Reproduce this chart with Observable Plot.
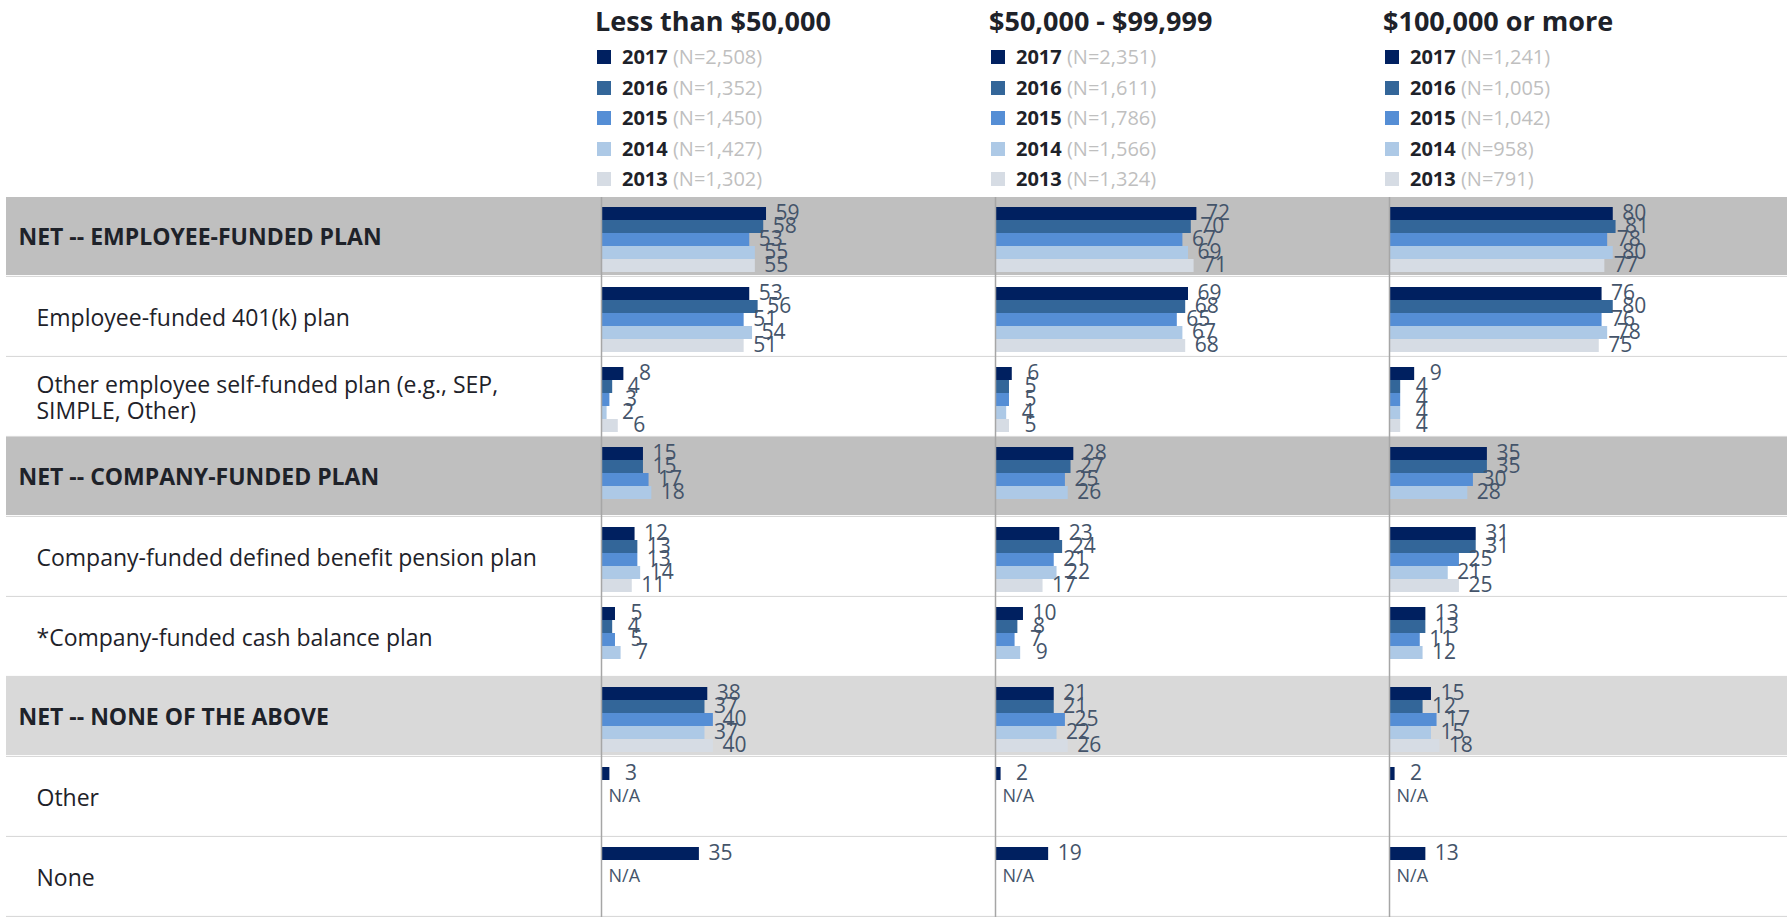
<!DOCTYPE html>
<html><head><meta charset="utf-8">
<script src="https://cdn.jsdelivr.net/npm/d3@7"></script>
<script src="https://cdn.jsdelivr.net/npm/@observablehq/plot@0.6"></script>
<style>
body{margin:0;background:#fff;font-family:"Open Sans",sans-serif;}
#chart{position:relative;width:1787px;height:918px;overflow:hidden;background:#fff;}
#chart svg{position:absolute;left:0;}
.title{position:absolute;font-weight:700;font-size:27px;color:#1e2229;white-space:nowrap;line-height:30px;}
.leg{position:absolute;font-size:20px;white-space:nowrap;line-height:30px;color:#1e2229;}
.leg b{font-weight:700;}
.leg span{color:#bfbfbf;}
.sw{position:absolute;width:14px;height:14px;}
</style></head><body><div id="chart"></div>
<script>
// ---- data ----
const groups = ["Less than $50,000", "$50,000 - $99,999", "$100,000 or more"];
const years = ["2017", "2016", "2015", "2014", "2013"];
const yearColors = ["#002060", "#336699", "#558ed5", "#adc9e6", "#d6dce4"];
const sampleLess50k = ["2,508", "1,352", "1,450", "1,427", "1,302"];
const sample50to99k = ["2,351", "1,611", "1,786", "1,566", "1,324"];
const sample100kPlus = ["1,241", "1,005", "1,042", "958", "791"];
const categories = [
  "NET -- EMPLOYEE-FUNDED PLAN",
  "Employee-funded 401(k) plan",
  "Other employee self-funded plan (e.g., SEP,\nSIMPLE, Other)",
  "NET -- COMPANY-FUNDED PLAN",
  "Company-funded defined benefit pension plan",
  "*Company-funded cash balance plan",
  "NET -- NONE OF THE ABOVE",
  "Other",
  "None"
];
const rowKinds = ["netDark", "item", "item", "netDark", "item", "item", "netLight", "item", "item"];
// values per category, in year order 2017..2013 (null = not shown)
const valuesLess50k = [
  [59, 58, 53, 55, 55],
  [53, 56, 51, 54, 51],
  [8, 4, 3, 2, 6],
  [15, 15, 17, 18, null],
  [12, 13, 13, 14, 11],
  [5, 4, 5, 7, null],
  [38, 37, 40, 37, 40],
  [3, "N/A", null, null, null],
  [35, "N/A", null, null, null]
];
const values50to99k = [
  [72, 70, 67, 69, 71],
  [69, 68, 65, 67, 68],
  [6, 5, 5, 4, 5],
  [28, 27, 25, 26, null],
  [23, 24, 21, 22, 17],
  [10, 8, 7, 9, null],
  [21, 21, 25, 22, 26],
  [2, "N/A", null, null, null],
  [19, "N/A", null, null, null]
];
const values100kPlus = [
  [80, 81, 78, 80, 77],
  [76, 80, 76, 78, 75],
  [9, 4, 4, 4, 4],
  [35, 35, 30, 28, null],
  [31, 31, 25, 21, 25],
  [13, 13, 11, 12, null],
  [15, 12, 17, 15, 18],
  [2, "N/A", null, null, null],
  [13, "N/A", null, null, null]
];

// ---- build tables ----
const groupValues = [valuesLess50k, values50to99k, values100kPlus];
const groupSamples = [sampleLess50k, sample50to99k, sample100kPlus];
const barData = [], naData = [];
groups.forEach((g, gi) => categories.forEach((c, ci) => years.forEach((y, yi) => {
  const v = groupValues[gi][ci][yi];
  if (typeof v === "number") barData.push({group: g, category: c, year: y, value: v});
  else if (v === "N/A") naData.push({group: g, category: c, year: y, text: v});
})));
const rowData = categories.map((c, i) => ({category: c, kind: rowKinds[i]}));
const bandFill = {netDark: "#bfbfbf", netLight: "#d9d9d9", item: "#ffffff"};

// ---- layout ----
const W = 1787, plotTop = 193, plotH = 728;
const labelColW = 601, panelW = 394;
const rowH = plotH / categories.length;
const font = "'Open Sans', sans-serif";
const chart = document.getElementById("chart");

// background rows + category labels
const bg = Plot.plot({
  width: W, height: plotH,
  marginLeft: 6, marginRight: 0, marginTop: 0, marginBottom: 0,
  x: {domain: [0, 1], axis: null},
  y: {domain: categories, padding: 0, axis: null},
  color: {type: "identity"},
  style: {fontFamily: font, background: "transparent"},
  marks: [
    Plot.barX(rowData, {y: "category", x1: 0, x2: 1, fill: d => bandFill[d.kind], insetBottom: 2}),
    Plot.barX(rowData, {y: "category", x1: 0, x2: 1, fill: "#d9d9d9", insetTop: rowH - 2}),
    Plot.text(rowData.filter(d => d.kind !== "item"), {
      y: "category", x: 0, text: "category", textAnchor: "start", dx: 12,
      fontSize: 23, fontWeight: "bold", fill: "#1e2229"
    }),
    Plot.text(rowData.filter(d => d.kind === "item"), {
      y: "category", x: 0, text: "category", textAnchor: "start", dx: 30,
      fontSize: 23, fill: "#1e2229", lineHeight: 1.15
    })
  ]
});
bg.style.top = plotTop + "px";
chart.appendChild(bg);

// bars
const main = Plot.plot({
  width: W, height: plotH,
  marginLeft: labelColW, marginRight: W - labelColW - 3 * panelW, marginTop: 0, marginBottom: 0,
  fx: {domain: groups, padding: 0, axis: null},
  fy: {domain: categories, padding: 0, axis: null},
  x: {domain: [0, panelW / 2.797], axis: null},
  y: {domain: years, padding: 0, insetTop: 9, insetBottom: 4.7, axis: null},
  color: {domain: years, range: yearColors},
  style: {fontFamily: font, background: "transparent", overflow: "visible"},
  marks: [
    Plot.barX(barData, {fx: "group", fy: "category", y: "year", x: "value", fill: "year"}),
    Plot.text(barData, {
      fx: "group", fy: "category", y: "year", x: "value", text: d => String(d.value),
      dx: 21, dy: -1, textAnchor: "middle", fontSize: 21, fill: "#44546a"
    }),
    Plot.text(naData, {
      fx: "group", fy: "category", y: "year", x: 0, text: "text",
      dx: 7, dy: 9, textAnchor: "start", fontSize: 18, fill: "#44546a"
    }),
    Plot.ruleX([0], {stroke: "#a6a6a6", strokeWidth: 1.5})
  ]
});
main.style.top = plotTop + "px";
chart.appendChild(main);

// header: panel titles and legends
groups.forEach((g, gi) => {
  const ax = labelColW + gi * panelW;
  const t = document.createElement("div");
  t.className = "title";
  t.style.left = (ax - 6) + "px";
  t.style.top = "6px";
  t.textContent = g;
  chart.appendChild(t);
  years.forEach((y, yi) => {
    const cy = 57 + yi * 30.5;
    const sw = document.createElement("div");
    sw.className = "sw";
    sw.style.left = (ax - 4) + "px";
    sw.style.top = (cy - 7) + "px";
    sw.style.background = yearColors[yi];
    chart.appendChild(sw);
    const l = document.createElement("div");
    l.className = "leg";
    l.style.left = (ax + 21) + "px";
    l.style.top = (cy - 15) + "px";
    l.innerHTML = "<b>" + y + "</b> <span>(N=" + groupSamples[gi][yi] + ")</span>";
    chart.appendChild(l);
  });
});
</script></body></html>
